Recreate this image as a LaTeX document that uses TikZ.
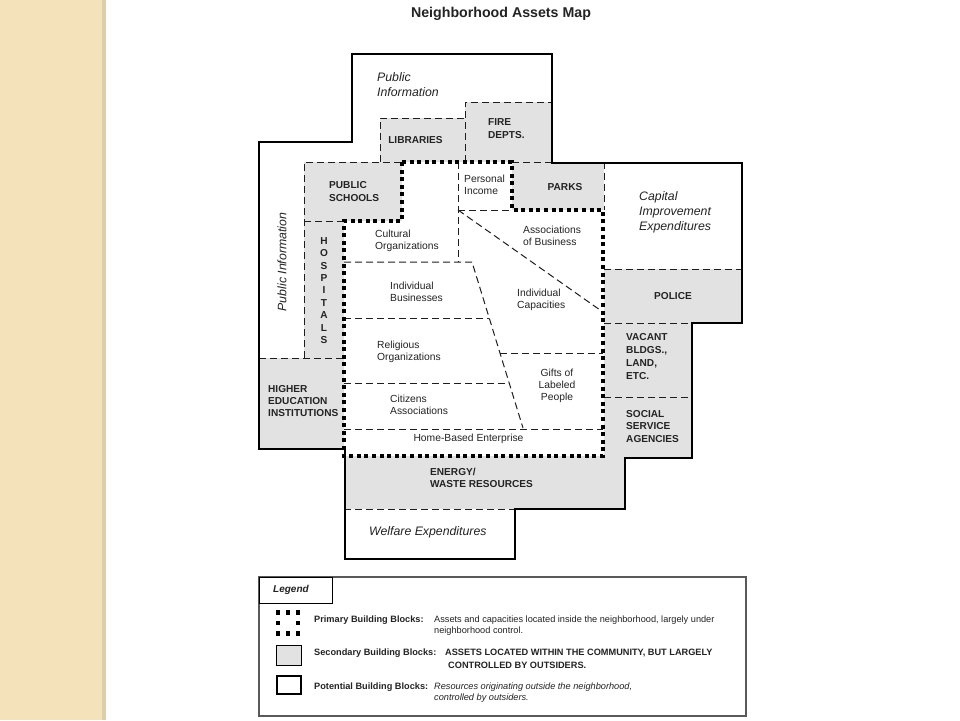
\documentclass[tikz,border=0pt]{standalone}
\usepackage{fontspec}
\setmainfont{Liberation Sans}
\definecolor{beige}{RGB}{243,226,186}
\definecolor{beigeedge}{RGB}{222,205,168}
\definecolor{boxgray}{RGB}{226,226,226}
\definecolor{txt}{RGB}{35,35,35}
\definecolor{linecol}{RGB}{30,30,30}
\begin{document}
\begin{tikzpicture}[x=1pt,y=-1pt,
  graybox/.style={fill=boxgray, draw=none},
  dashline/.style={line width=1pt, dash pattern=on 7pt off 4pt, draw=linecol},
  primline/.style={line width=4pt, dash pattern=on 4pt off 3.6pt, draw=black},
  outerline/.style={line width=2pt, draw=black, line join=miter},
  reg/.style={font=\fontsize{10.3}{12}\selectfont, align=left, anchor=west, inner sep=0pt, text=txt},
  capsb/.style={font=\bfseries\fontsize{10.1}{12.5}\selectfont, align=left, anchor=west, inner sep=0pt, text=txt},
  ital/.style={font=\itshape\fontsize{12.3}{15.3}\selectfont, align=left, anchor=west, inner sep=0pt, text=txt},
  leg/.style={font=\fontsize{9.2}{11}\selectfont, anchor=west, inner sep=0pt, text=txt},
  legb/.style={leg, font=\bfseries\fontsize{9.2}{11}\selectfont},
  legi/.style={leg, font=\itshape\fontsize{9.2}{11}\selectfont},
]
% canvas
\useasboundingbox (0,0) rectangle (960,720);
\fill[white] (0,0) rectangle (960,720);
\fill[beige] (0,0) rectangle (106,720);
\fill[beigeedge] (102,0) rectangle (106,720);

% title
\node[font=\bfseries\fontsize{14.2}{16}\selectfont, text=txt, inner sep=0pt] (title) at (501,14) {Neighborhood Assets Map};

% gray (secondary) areas
\fill[boxgray] (380,118) rectangle (465,162); % libraries
\fill[boxgray] (465,102) rectangle (552,162); % fire
\fill[boxgray] (304,162) rectangle (402,221); % public schools
\fill[boxgray] (304,221) rectangle (344,358); % hospitals
\fill[boxgray] (259,358) rectangle (344,449); % higher ed
\fill[boxgray] (512,162) rectangle (604,210); % parks
\fill[boxgray] (604,269) rectangle (742,323); % police
\fill[boxgray] (604,323) rectangle (692,397); % vacant
\fill[boxgray] (604,397) rectangle (692,458); % social
\fill[boxgray] (344,456) rectangle (625,509); % energy

% dashed boundaries
\draw[dashline] (380,162) -- (380,118) -- (465,118);
\draw[dashline] (465,162) -- (465,102) -- (552,102);
\draw[dashline] (304,358) -- (304,162) -- (402,162);
\draw[dashline] (304,221) -- (344,221);
\draw[dashline] (259,358) -- (344,358);
\draw[dashline] (458,162) -- (458,262);
\draw[dashline] (458,210) -- (512,210);
\draw[dashline] (512,162) -- (552,162);
\draw[dashline] (604,162) -- (604,210);
\draw[dashline] (604,269) -- (742,269);
\draw[dashline] (604,323) -- (692,323);
\draw[dashline] (604,397) -- (692,397);
\draw[dashline] (344,262) -- (472,262) -- (523,428);
\draw[dashline] (458,210) -- (600,310);
\draw[dashline] (344,318) -- (489,318);
\draw[dashline] (344,383) -- (509,383);
\draw[dashline] (500,353) -- (603,353);
\draw[dashline] (344,429) -- (603,429);
\draw[dashline] (344,509) -- (515,509);

% primary building blocks outline
\draw[primline] (402,162) -- (512,162) -- (512,210) -- (603,210) -- (603,456)
  -- (344,456) -- (344,221) -- (402,221) -- cycle;

% outer (potential) boundary
\draw[outerline] (352,54) -- (552,54) -- (552,163) -- (742,163) -- (742,323)
  -- (692,323) -- (692,458) -- (625,458) -- (625,509) -- (515,509) -- (515,559)
  -- (345,559) -- (345,449) -- (259,449) -- (259,142) -- (352,142) -- cycle;

% labels
\node[ital] (pubinfo) at (377,84.5) {Public\\Information};
\node[ital, anchor=center, rotate=90] (pubinfoleft) at (282,262) {Public Information};
\node[capsb, anchor=center] (libraries) at (415.5,140) {LIBRARIES};
\node[capsb] (fire) at (488,128.5) {FIRE\\DEPTS.};
\node[capsb] (schools) at (329,191.5) {PUBLIC\\SCHOOLS};
\node[reg] (income) at (464,185) {Personal\\Income};
\node[capsb, anchor=center] (parks) at (565,187) {PARKS};
\node[ital] (capital) at (639,212.5) {Capital\\Improvement\\Expenditures};
\node[reg] (cultural) at (375,241) {Cultural\\Organizations};
\node[reg] (assocbus) at (523,236) {Associations\\of Business};
\node[capsb, anchor=center, align=center, font=\bfseries\fontsize{10.1}{12.4}\selectfont] (hospitals) at (324,290.5) {H\\O\\S\\P\\I\\T\\A\\L\\S};
\node[reg] (indbus) at (390,292) {Individual\\Businesses};
\node[reg] (indcap) at (517,300) {Individual\\Capacities};
\node[capsb, anchor=center] (police) at (673,296) {POLICE};
\node[reg] (religious) at (377,352) {Religious\\Organizations};
\node[capsb, font=\bfseries\fontsize{10.1}{13}\selectfont] (vacant) at (626,356.5) {VACANT\\BLDGS.,\\LAND,\\ETC.};
\node[reg, anchor=center, align=center] (gifts) at (557,386) {Gifts of\\Labeled\\People};
\node[capsb, font=\bfseries\fontsize{10.1}{12}\selectfont] (higher) at (268,401) {HIGHER\\EDUCATION\\INSTITUTIONS};
\node[reg] (citizens) at (390,405) {Citizens\\Associations};
\node[capsb] (social) at (626,426.5) {SOCIAL\\SERVICE\\AGENCIES};
\node[reg, anchor=center] (homebased) at (468.5,439) {Home-Based Enterprise};
\node[capsb, font=\bfseries\fontsize{10.1}{12}\selectfont] (energy) at (430,478) {ENERGY/\\WASTE RESOURCES};
\node[ital] (welfare) at (369,532) {Welfare Expenditures};

% legend
\draw[line width=1.2pt, draw=black!65] (259,577) rectangle (746,716);
\draw[line width=0.9pt, draw=black] (259,577) rectangle (332,603);
\node[font=\bfseries\itshape\fontsize{10}{12}\selectfont, text=txt, anchor=west, inner sep=0pt] (legtitle) at (273,590) {Legend};
\foreach \cx/\cy in {278/612.5,288/612.5,298/612.5,278/623,298/623,278/633.3,288/633.3,298/633.3}
  \fill[black] (\cx-2.2,\cy-2.2) rectangle (\cx+2.2,\cy+2.2);
\draw[line width=1pt, fill=boxgray] (276,645) rectangle (301,665);
\draw[line width=1.6pt] (277,676) rectangle (301,694);
\node[legb] (prim) at (314,620) {Primary Building Blocks:};
\node[leg] (primd1) at (434,620) {Assets and capacities located inside the neighborhood, largely under};
\node[leg] (primd2) at (434,631) {neighborhood control.};
\node[legb] (sec) at (314,653) {Secondary Building Blocks:};
\node[legb] (secd1) at (445,653) {ASSETS LOCATED WITHIN THE COMMUNITY, BUT LARGELY};
\node[legb] (secd2) at (448,665) {CONTROLLED BY OUTSIDERS.};
\node[legb] (pot) at (314,687) {Potential Building Blocks:};
\node[legi] (potd1) at (434,687) {Resources originating outside the neighborhood,};
\node[legi] (potd2) at (434,698) {controlled by outsiders.};
\end{tikzpicture}
\end{document}
